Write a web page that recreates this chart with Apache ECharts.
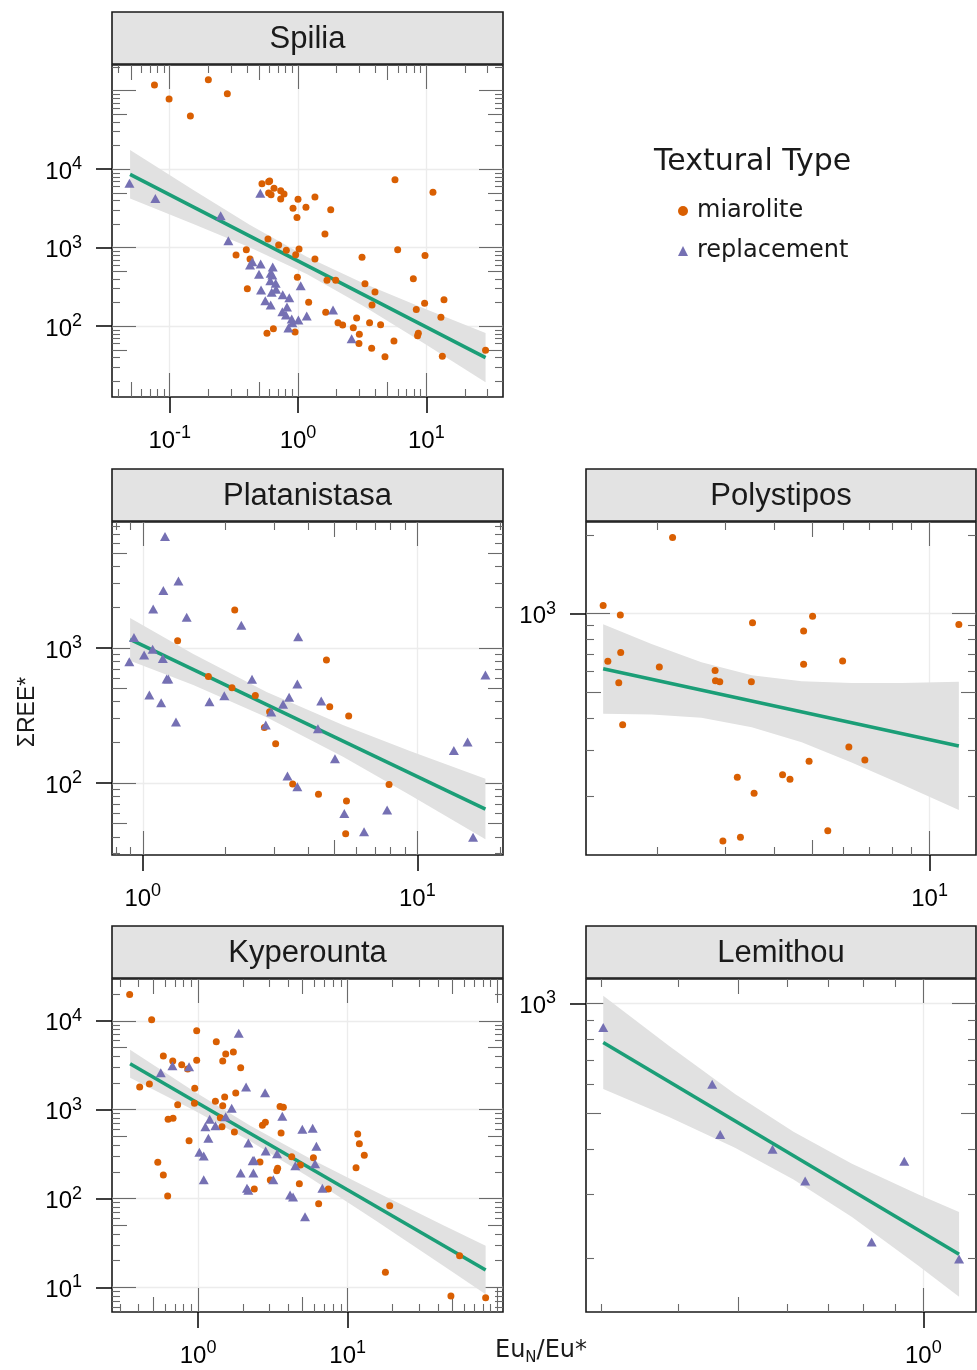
<!DOCTYPE html>
<html>
<head>
<meta charset="utf-8">
<script src="https://cdn.jsdelivr.net/npm/echarts@6/dist/echarts.min.js"></script>
<style>
html,body{margin:0;padding:0;background:#ffffff;}
#chart{width:977px;height:1370px;}
</style>
</head>
<body>
<div id="chart"></div>
<script>
// All values are log10 of the plotted quantity (x = EuN/Eu*, y = ΣREE*).

// ---------- Spilia ----------
const spiliaMiarolite = [[-1.119,5.072],[-0.699,5.140],[-1.005,4.894],[-0.551,4.962],[-0.839,4.677],[0.756,3.866],[1.052,3.705],[-0.281,3.815],[-0.229,3.841],[-0.221,3.849],[-0.187,3.756],[-0.229,3.696],[-0.210,3.675],[-0.135,3.726],[-0.109,3.684],[-0.135,3.620],[0.000,3.616],[0.132,3.645],[-0.039,3.501],[0.062,3.514],[0.255,3.484],[-0.008,3.386],[0.210,3.174],[-0.234,3.110],[-0.151,3.034],[-0.091,2.966],[0.008,2.983],[-0.018,2.911],[-0.403,2.975],[-0.483,2.907],[-0.374,2.856],[0.132,2.856],[0.499,2.877],[0.777,2.975],[0.990,2.902],[0.899,2.605],[-0.005,2.622],[0.226,2.584],[0.294,2.584],[0.522,2.541],[0.600,2.435],[-0.395,2.478],[0.083,2.304],[0.577,2.270],[0.987,2.291],[1.138,2.338],[0.922,2.214],[0.216,2.176],[0.457,2.104],[1.114,2.113],[0.312,2.045],[0.348,2.015],[0.558,2.045],[0.644,2.019],[0.431,1.981],[0.478,1.896],[0.938,1.909],[0.932,1.879],[-0.192,1.968],[-0.242,1.909],[-0.023,1.926],[0.475,1.781],[0.574,1.718],[0.748,1.811],[0.678,1.611],[1.125,1.616],[1.462,1.692]];
const spiliaReplacement = [[-1.314,3.820],[-1.112,3.628],[-0.603,3.408],[-0.543,3.089],[-0.294,3.692],[-0.356,2.822],[-0.374,2.779],[-0.291,2.792],[-0.197,2.754],[-0.304,2.660],[-0.213,2.673],[-0.200,2.652],[-0.216,2.580],[-0.174,2.546],[0.021,2.516],[-0.288,2.461],[-0.205,2.431],[-0.171,2.469],[-0.119,2.401],[-0.068,2.363],[-0.255,2.325],[-0.213,2.270],[-0.086,2.244],[-0.122,2.185],[-0.094,2.142],[-0.049,2.091],[0.003,2.079],[0.068,2.130],[-0.044,2.045],[-0.075,1.977],[0.273,2.206],[0.418,1.841]];
const spiliaFit = [[-1.309,3.934],[1.462,1.599]];
const spiliaBandX = [-1.309,-0.816,-0.374,0.068,0.509,1.003,1.462];
const spiliaBandLow = [3.625,3.302,3.002,2.664,2.258,1.761,1.286];
const spiliaBandHigh = [4.243,3.734,3.290,2.884,2.546,2.211,1.912];
const spiliaXRange = [-1.450,1.598];
const spiliaYRange = [1.098,5.327];
const spiliaXTicks = [-1,0,1];
const spiliaYTicks = [2,3,4];

// ---------- Platanistasa ----------
const platanistasaMiarolite = [[0.335,3.281],[0.127,3.054],[0.669,2.911],[0.239,2.788],[0.325,2.706],[0.410,2.649],[0.462,2.528],[0.443,2.412],[0.681,2.565],[0.750,2.496],[0.484,2.291],[0.546,1.993],[0.640,1.916],[0.742,1.867],[0.897,1.990],[0.739,1.625]];
const platanistasaReplacement = [[0.081,3.825],[0.130,3.496],[0.075,3.425],[0.038,3.289],[0.160,3.227],[0.359,3.168],[0.566,3.084],[-0.032,3.077],[0.036,2.990],[0.005,2.948],[0.073,2.923],[-0.049,2.899],[0.087,2.770],[0.093,2.770],[0.398,2.768],[0.563,2.733],[0.024,2.652],[0.067,2.595],[0.243,2.602],[0.297,2.647],[0.533,2.635],[0.511,2.583],[0.650,2.607],[0.468,2.526],[0.121,2.452],[0.448,2.430],[0.638,2.402],[0.700,2.180],[0.527,2.052],[0.563,1.973],[0.734,1.775],[0.890,1.800],[0.806,1.640],[1.133,2.240],[1.183,2.304],[1.248,2.800],[1.203,1.598]];
const platanistasaFit = [[-0.046,3.064],[1.248,1.807]];
const platanistasaBandX = [-0.046,0.184,0.451,0.731,0.973,1.248];
const platanistasaBandLow = [2.906,2.725,2.488,2.192,1.911,1.583];
const platanistasaBandHigh = [3.222,2.956,2.674,2.427,2.237,2.032];
const platanistasaXRange = [-0.112,1.312];
const platanistasaYRange = [1.467,3.933];
const platanistasaXTicks = [0,1];
const platanistasaYTicks = [2,3];

// ---------- Polystipos ----------
const polystiposMiarolite = [[0.341,3.292],[0.163,3.032],[0.207,2.995],[0.546,2.966],[0.700,2.990],[0.677,2.934],[1.075,2.959],[0.175,2.818],[0.208,2.852],[0.307,2.796],[0.450,2.783],[0.451,2.744],[0.462,2.740],[0.543,2.740],[0.203,2.736],[0.677,2.807],[0.777,2.819],[0.213,2.575],[0.793,2.490],[0.834,2.440],[0.691,2.436],[0.507,2.374],[0.623,2.384],[0.642,2.367],[0.550,2.313],[0.470,2.131],[0.515,2.145],[0.739,2.170]];
const polystiposReplacement = [];
const polystiposFit = [[0.163,2.790],[1.075,2.494]];
const polystiposBandX = [0.163,0.287,0.415,0.544,0.672,0.800,0.928,1.075];
const polystiposBandLow = [2.617,2.615,2.602,2.566,2.508,2.431,2.348,2.249];
const polystiposBandHigh = [2.960,2.884,2.814,2.765,2.742,2.735,2.735,2.740];
const polystiposXRange = [0.119,1.119];
const polystiposYRange = [2.077,3.351];
const polystiposXTicks = [1];
const polystiposYTicks = [3];

// ---------- Kyperounta ----------
const kyperountaMiarolite = [[-0.457,4.297],[-0.310,4.012],[-0.009,3.889],[0.122,3.765],[-0.232,3.604],[-0.169,3.547],[-0.109,3.506],[-0.069,3.457],[-0.009,3.555],[0.165,3.547],[0.185,3.626],[0.236,3.649],[0.285,3.472],[-0.390,3.255],[-0.325,3.289],[-0.022,3.240],[0.252,3.187],[0.178,3.142],[-0.136,3.056],[-0.024,3.071],[0.116,3.094],[0.165,3.045],[0.548,3.037],[0.570,3.026],[-0.200,2.891],[-0.167,2.903],[0.149,2.910],[0.160,2.809],[0.243,2.749],[0.430,2.824],[0.450,2.858],[0.555,2.738],[-0.060,2.651],[1.067,2.726],[1.078,2.618],[1.111,2.486],[1.056,2.348],[0.626,2.471],[0.771,2.460],[0.684,2.378],[0.414,2.411],[0.532,2.340],[0.526,2.314],[0.483,2.209],[0.376,2.108],[0.677,2.168],[0.871,2.108],[-0.269,2.408],[-0.232,2.265],[-0.203,2.029],[0.806,1.943],[1.281,1.920],[1.252,1.170],[1.748,1.358],[1.690,0.904],[1.922,0.885]];
const kyperountaReplacement = [[0.272,3.859],[-0.249,3.416],[-0.171,3.495],[-0.060,3.484],[0.321,3.255],[0.448,3.191],[0.225,3.015],[0.185,2.921],[0.563,2.925],[0.078,2.891],[0.049,2.809],[0.116,2.820],[0.069,2.678],[0.697,2.779],[0.766,2.790],[0.336,2.625],[0.009,2.520],[0.038,2.479],[0.791,2.588],[0.452,2.535],[0.528,2.505],[0.365,2.426],[0.374,2.430],[0.650,2.370],[0.782,2.393],[0.285,2.288],[0.370,2.288],[0.503,2.213],[0.038,2.213],[0.327,2.115],[0.336,2.093],[0.831,2.115],[0.615,2.040],[0.635,2.018],[0.715,1.796]];
const kyperountaFit = [[-0.454,3.517],[1.922,1.197]];
const kyperountaBandX = [-0.454,-0.031,0.347,0.748,1.194,1.639,1.922];
const kyperountaBandLow = [3.360,2.997,2.647,2.234,1.744,1.244,0.925];
const kyperountaBandHigh = [3.675,3.211,2.822,2.452,2.071,1.701,1.468];
const kyperountaXRange = [-0.575,2.038];
const kyperountaYRange = [0.724,4.470];
const kyperountaXTicks = [0,1];
const kyperountaYTicks = [1,2,3,4];

// ---------- Lemithou ----------
const lemithouMiarolite = [];
const lemithouReplacement = [[-0.520,2.934],[-0.343,2.779],[-0.330,2.641],[-0.245,2.601],[-0.192,2.514],[-0.031,2.568],[-0.084,2.347],[0.058,2.300]];
const lemithouFit = [[-0.520,2.893],[0.058,2.313]];
const lemithouBandX = [-0.520,-0.414,-0.306,-0.211,-0.116,-0.008,0.058];
const lemithouBandLow = [2.766,2.690,2.605,2.518,2.415,2.282,2.197];
const lemithouBandHigh = [3.021,2.885,2.752,2.649,2.561,2.477,2.429];
const lemithouXRange = [-0.548,0.0855];
const lemithouYRange = [2.155,3.067];
const lemithouXTicks = [0];
const lemithouYTicks = [3];

const panelNames = ['Spilia','Platanistasa','Polystipos','Kyperounta','Lemithou'];
const seriesNames = ['miarolite','replacement'];

// ---------- assemble ----------
const panels = [
  {name:panelNames[0], mia:spiliaMiarolite, rep:spiliaReplacement, fit:spiliaFit, bx:spiliaBandX, bl:spiliaBandLow, bh:spiliaBandHigh, xr:spiliaXRange, yr:spiliaYRange, xt:spiliaXTicks, yt:spiliaYTicks},
  {name:panelNames[1], mia:platanistasaMiarolite, rep:platanistasaReplacement, fit:platanistasaFit, bx:platanistasaBandX, bl:platanistasaBandLow, bh:platanistasaBandHigh, xr:platanistasaXRange, yr:platanistasaYRange, xt:platanistasaXTicks, yt:platanistasaYTicks},
  {name:panelNames[2], mia:polystiposMiarolite, rep:polystiposReplacement, fit:polystiposFit, bx:polystiposBandX, bl:polystiposBandLow, bh:polystiposBandHigh, xr:polystiposXRange, yr:polystiposYRange, xt:polystiposXTicks, yt:polystiposYTicks},
  {name:panelNames[3], mia:kyperountaMiarolite, rep:kyperountaReplacement, fit:kyperountaFit, bx:kyperountaBandX, bl:kyperountaBandLow, bh:kyperountaBandHigh, xr:kyperountaXRange, yr:kyperountaYRange, xt:kyperountaXTicks, yt:kyperountaYTicks},
  {name:panelNames[4], mia:lemithouMiarolite, rep:lemithouReplacement, fit:lemithouFit, bx:lemithouBandX, bl:lemithouBandLow, bh:lemithouBandHigh, xr:lemithouXRange, yr:lemithouYRange, xt:lemithouXTicks, yt:lemithouYTicks}
];

// layout (pixels) kept apart from data
const layout = [
  {left:112, top:65,  width:391, height:332},
  {left:112, top:522, width:391, height:333},
  {left:586, top:522, width:390, height:333},
  {left:112, top:979, width:391, height:333},
  {left:586, top:979, width:390, height:333}
];
const C = {mia:'#d95f02', rep:'#7570b3', fit:'#1b9e77', band:'#e1e1e1', strip:'#e3e3e3', border:'#1a1a1a', tick:'#6a6a6a', grid:'#ececec'};
const LABEL_FONT = 'Liberation Sans';

function logTicks(lo, hi) {
  const sets = {long:[], mid:[], short:[]};
  for (let n = Math.floor(lo); n <= Math.ceil(hi); n++) {
    for (let k = 1; k <= 9; k++) {
      const v = n + Math.log10(k);
      if (v < lo || v > hi) continue;
      if (k === 1) sets.long.push(v); else if (k === 5) sets.mid.push(v); else sets.short.push(v);
    }
  }
  return [[sets.long, 24], [sets.mid, 15], [sets.short, 8]];
}

function mainAxis(dim, g, range, ticks) {
  return {
    type:'value', gridIndex:g, min:range[0], max:range[1],
    position: dim === 'x' ? 'bottom' : 'left',
    axisLine:{show:false, onZero:false},
    axisTick:{show:true, inside:false, length:16, lineStyle:{color:'#000', width:1.5}, customValues:ticks},
    axisLabel:{
      show:true, customValues:ticks, margin: dim === 'x' ? 27 : 30,
      padding: dim === 'y' ? [6,0,0,0] : 0,
      formatter: function (v) { return '{b|10}{s|' + Math.round(v) + '}'; },
      rich:{
        b:{fontSize:24, fontFamily:LABEL_FONT, color:'#000', lineHeight:34},
        s:{fontSize:18, fontFamily:LABEL_FONT, color:'#000', lineHeight:18, verticalAlign:'top'}
      }
    },
    splitLine:{show:true, lineStyle:{color:C.grid, width:1.3}},
    splitArea:{show:false}
  };
}

function minorAxis(g, range, pos, vals, len) {
  const ax = {
    type:'value', gridIndex:g, min:range[0], max:range[1], position:pos,
    axisLine:{show:false, onZero:false}, axisLabel:{show:false}, splitLine:{show:false},
    axisTick:{show: vals.length > 0, inside:true, length:len, lineStyle:{color:C.tick, width:1.1}}
  };
  if (vals.length) ax.axisTick.customValues = vals;
  return ax;
}

// confidence band drawn as one polygon through the library's coordinate system
function bandRenderer(bx, bl, bh) {
  return function (params, api) {
    if (params.dataIndex !== 0) return null;
    const pts = [];
    for (let i = 0; i < bx.length; i++) pts.push(api.coord([bx[i], bh[i]]));
    for (let i = bx.length - 1; i >= 0; i--) pts.push(api.coord([bx[i], bl[i]]));
    return {type:'polygon', shape:{points:pts}, style:{fill:C.band, stroke:null}};
  };
}

const grids = [], xAxes = [], yAxes = [], series = [], graphics = [];

panels.forEach(function (p, g) {
  const L = layout[g];
  grids.push({left:L.left, top:L.top, width:L.width, height:L.height, show:true,
    backgroundColor:'#ffffff', borderColor:C.border, borderWidth:1.6, containLabel:false, outerBoundsMode:'none'});
  const xi = xAxes.length, yi = yAxes.length;
  xAxes.push(mainAxis('x', g, p.xr, p.xt));
  yAxes.push(mainAxis('y', g, p.yr, p.yt));
  const lx = logTicks(p.xr[0], p.xr[1]);
  const ly = logTicks(p.yr[0], p.yr[1]);
  ['bottom','top'].forEach(function (pos) { lx.forEach(function (s) { xAxes.push(minorAxis(g, p.xr, pos, s[0], s[1])); }); });
  ['left','right'].forEach(function (pos) { ly.forEach(function (s) { yAxes.push(minorAxis(g, p.yr, pos, s[0], s[1])); }); });

  series.push({type:'custom', xAxisIndex:xi, yAxisIndex:yi, silent:true, z:1,
    data: p.bx.map(function (x, i) { return [x, p.bl[i], p.bh[i]]; }),
    encode:{x:0, y:[1,2]}, renderItem: bandRenderer(p.bx, p.bl, p.bh)});
  series.push({type:'line', xAxisIndex:xi, yAxisIndex:yi, silent:true, symbol:'none', data:p.fit,
    lineStyle:{color:C.fit, width:3.6}, z:3});
  if (p.mia.length) series.push({type:'scatter', name:seriesNames[0], xAxisIndex:xi, yAxisIndex:yi, data:p.mia,
    symbol:'circle', symbolSize:7, itemStyle:{color:C.mia, opacity:1}, z:4});
  if (p.rep.length) series.push({type:'scatter', name:seriesNames[1], xAxisIndex:xi, yAxisIndex:yi, data:p.rep,
    symbol:'triangle', symbolSize:[10,9], itemStyle:{color:C.rep, opacity:1}, z:4});

  graphics.push({type:'rect', z:10, shape:{x:L.left, y:L.top-53, width:L.width, height:52},
    style:{fill:C.strip, stroke:C.border, lineWidth:1.6}});
  graphics.push({type:'text', z:11, x:L.left + L.width/2, y:L.top-26,
    style:{text:p.name, fontSize:31, fontFamily:LABEL_FONT, fill:'#1a1a1a', align:'center', verticalAlign:'middle'}});
});

graphics.push({type:'text', x:654, y:162,
  style:{text:'Textural Type', fontSize:30, fontFamily:'DejaVu Sans', fill:'#1a1a1a', align:'left', verticalAlign:'middle'}});
graphics.push({type:'text', x:28, y:712, rotation:Math.PI/2,
  style:{text:'ΣREE*', fontSize:23, fontFamily:LABEL_FONT, fill:'#1a1a1a', align:'center', verticalAlign:'middle'}});
graphics.push({type:'text', x:541, y:1351,
  style:{text:'{a|Eu}{s|N}{a|/Eu*}', fill:'#1a1a1a', align:'center', verticalAlign:'middle',
    rich:{a:{fontSize:24, fontFamily:'DejaVu Sans', lineHeight:30, fill:'#1a1a1a'},
          s:{fontSize:15, fontFamily:'DejaVu Sans', lineHeight:15, verticalAlign:'bottom', fill:'#1a1a1a'}}}});

const option = {
  animation:false,
  backgroundColor:'#ffffff',
  grid:grids, xAxis:xAxes, yAxis:yAxes, series:series,
  legend:{
    left:673, top:192, orient:'vertical', itemWidth:10, itemHeight:10, itemGap:12, selectedMode:false,
    data:[{name:seriesNames[0], icon:'circle'}, {name:seriesNames[1], icon:'triangle'}],
    textStyle:{fontFamily:'DejaVu Sans', fontSize:24, color:'#1a1a1a', lineHeight:28, padding:[0,0,0,4]}
  },
  graphic:{elements:graphics}
};

const chart = echarts.init(document.getElementById('chart'), null, {renderer:'canvas'});
chart.setOption(option);
</script>
</body>
</html>
